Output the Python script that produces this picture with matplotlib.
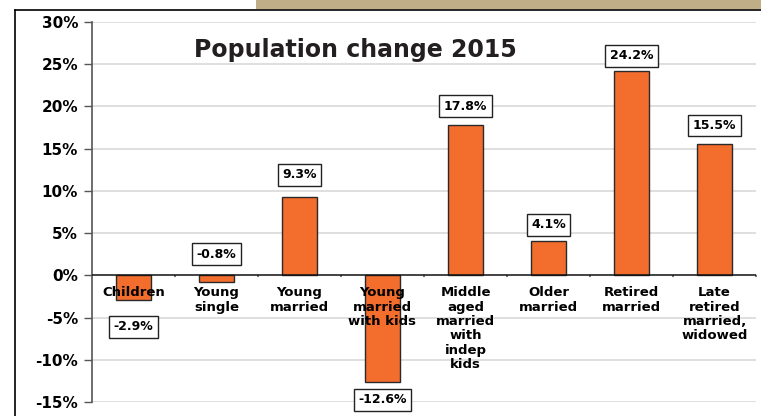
import matplotlib
matplotlib.use("Agg")
import matplotlib.pyplot as plt
from matplotlib.lines import Line2D
from matplotlib.patches import Rectangle

# segment names and their 2015 population change (%)
segments = ["Children", "Young\nsingle", "Young\nmarried", "Young\nmarried\nwith kids",
            "Middle\naged\nmarried\nwith\nindep\nkids", "Older\nmarried", "Retired\nmarried",
            "Late\nretired\nmarried,\nwidowed"]
change = [-2.9, -0.8, 9.3, -12.6, 17.8, 4.1, 24.2, 15.5]
y_ticks = [-15, -10, -5, 0, 5, 10, 15, 20, 25, 30]

# how far (px) each value box sits from the bar end, + is up
label_dy = [-27, 28, 22, -18, 19, 16, 15, 19]

fig = plt.figure(figsize=(7.61, 4.16), dpi=100)
fig.patch.set_facecolor("white")

# frame lines and the tan strip at the top
fig.add_artist(Rectangle((256 / 761, 1 - 9 / 416), 1, 9 / 416, transform=fig.transFigure,
                         facecolor="#BFAE88", edgecolor="none"))
fig.add_artist(Line2D([15 / 761, 1], [1 - 10 / 416, 1 - 10 / 416], transform=fig.transFigure,
                      color="black", lw=1.2))
fig.add_artist(Line2D([15 / 761, 15 / 761], [0, 1 - 10 / 416], transform=fig.transFigure,
                      color="black", lw=1.2))

ax = fig.add_axes([92 / 761, 1 - 402 / 416, (756 - 92) / 761, (402 - 22) / 416])
x = list(range(len(change)))
ax.bar(x, change, width=0.41, color="#F36D2C", edgecolor="#2A2A2A", linewidth=1.0, zorder=3)

ax.set_xlim(-0.5, len(change) - 0.5)
ax.set_ylim(-15, 30)
ax.set_yticks(y_ticks)
ax.set_yticklabels(["{}%".format(t) for t in y_ticks], fontsize=11, fontweight="bold",
                   family="DejaVu Sans")
ax.tick_params(axis="y", direction="out", length=6, width=1, color="#555555", pad=4)
ax.set_xticks([])
for s in ["top", "right", "bottom"]:
    ax.spines[s].set_visible(False)
ax.spines["left"].set_color("#555555")
ax.spines["left"].set_linewidth(1.2)

for t in y_ticks:
    if t != 0:
        ax.axhline(t, color="#D9D9D9", lw=1.2, zorder=1)
ax.axhline(0, color="#111111", lw=1.1, zorder=4)

# small tick marks on the zero line between categories
for i in range(1, len(change) + 1):
    ax.annotate("", xy=(i - 0.5, 0), xytext=(0, -4), textcoords="offset pixels",
                arrowprops=dict(arrowstyle="-", color="#333333", lw=1))

for i, name in enumerate(segments):
    ax.annotate(name, xy=(i, 0), xytext=(0, -11), textcoords="offset pixels",
                ha="center", va="top", fontsize=9.5, fontweight="bold",
                family="DejaVu Sans", linespacing=1.13, zorder=5)

for i, v in enumerate(change):
    ax.annotate("{:.1f}%".format(v), xy=(i, v), xytext=(0, label_dy[i]),
                textcoords="offset pixels", ha="center", va="center",
                fontsize=9, fontweight="bold", family="DejaVu Sans", zorder=6,
                bbox=dict(boxstyle="square,pad=0.35", facecolor="white",
                          edgecolor="#222222", lw=1))

fig.text(355 / 761, 1 - 50 / 416, "Population change 2015", ha="center", va="center",
         fontsize=17, fontweight="bold", family="DejaVu Sans", color="#231F20")

plt.savefig("out.png", dpi=100)
